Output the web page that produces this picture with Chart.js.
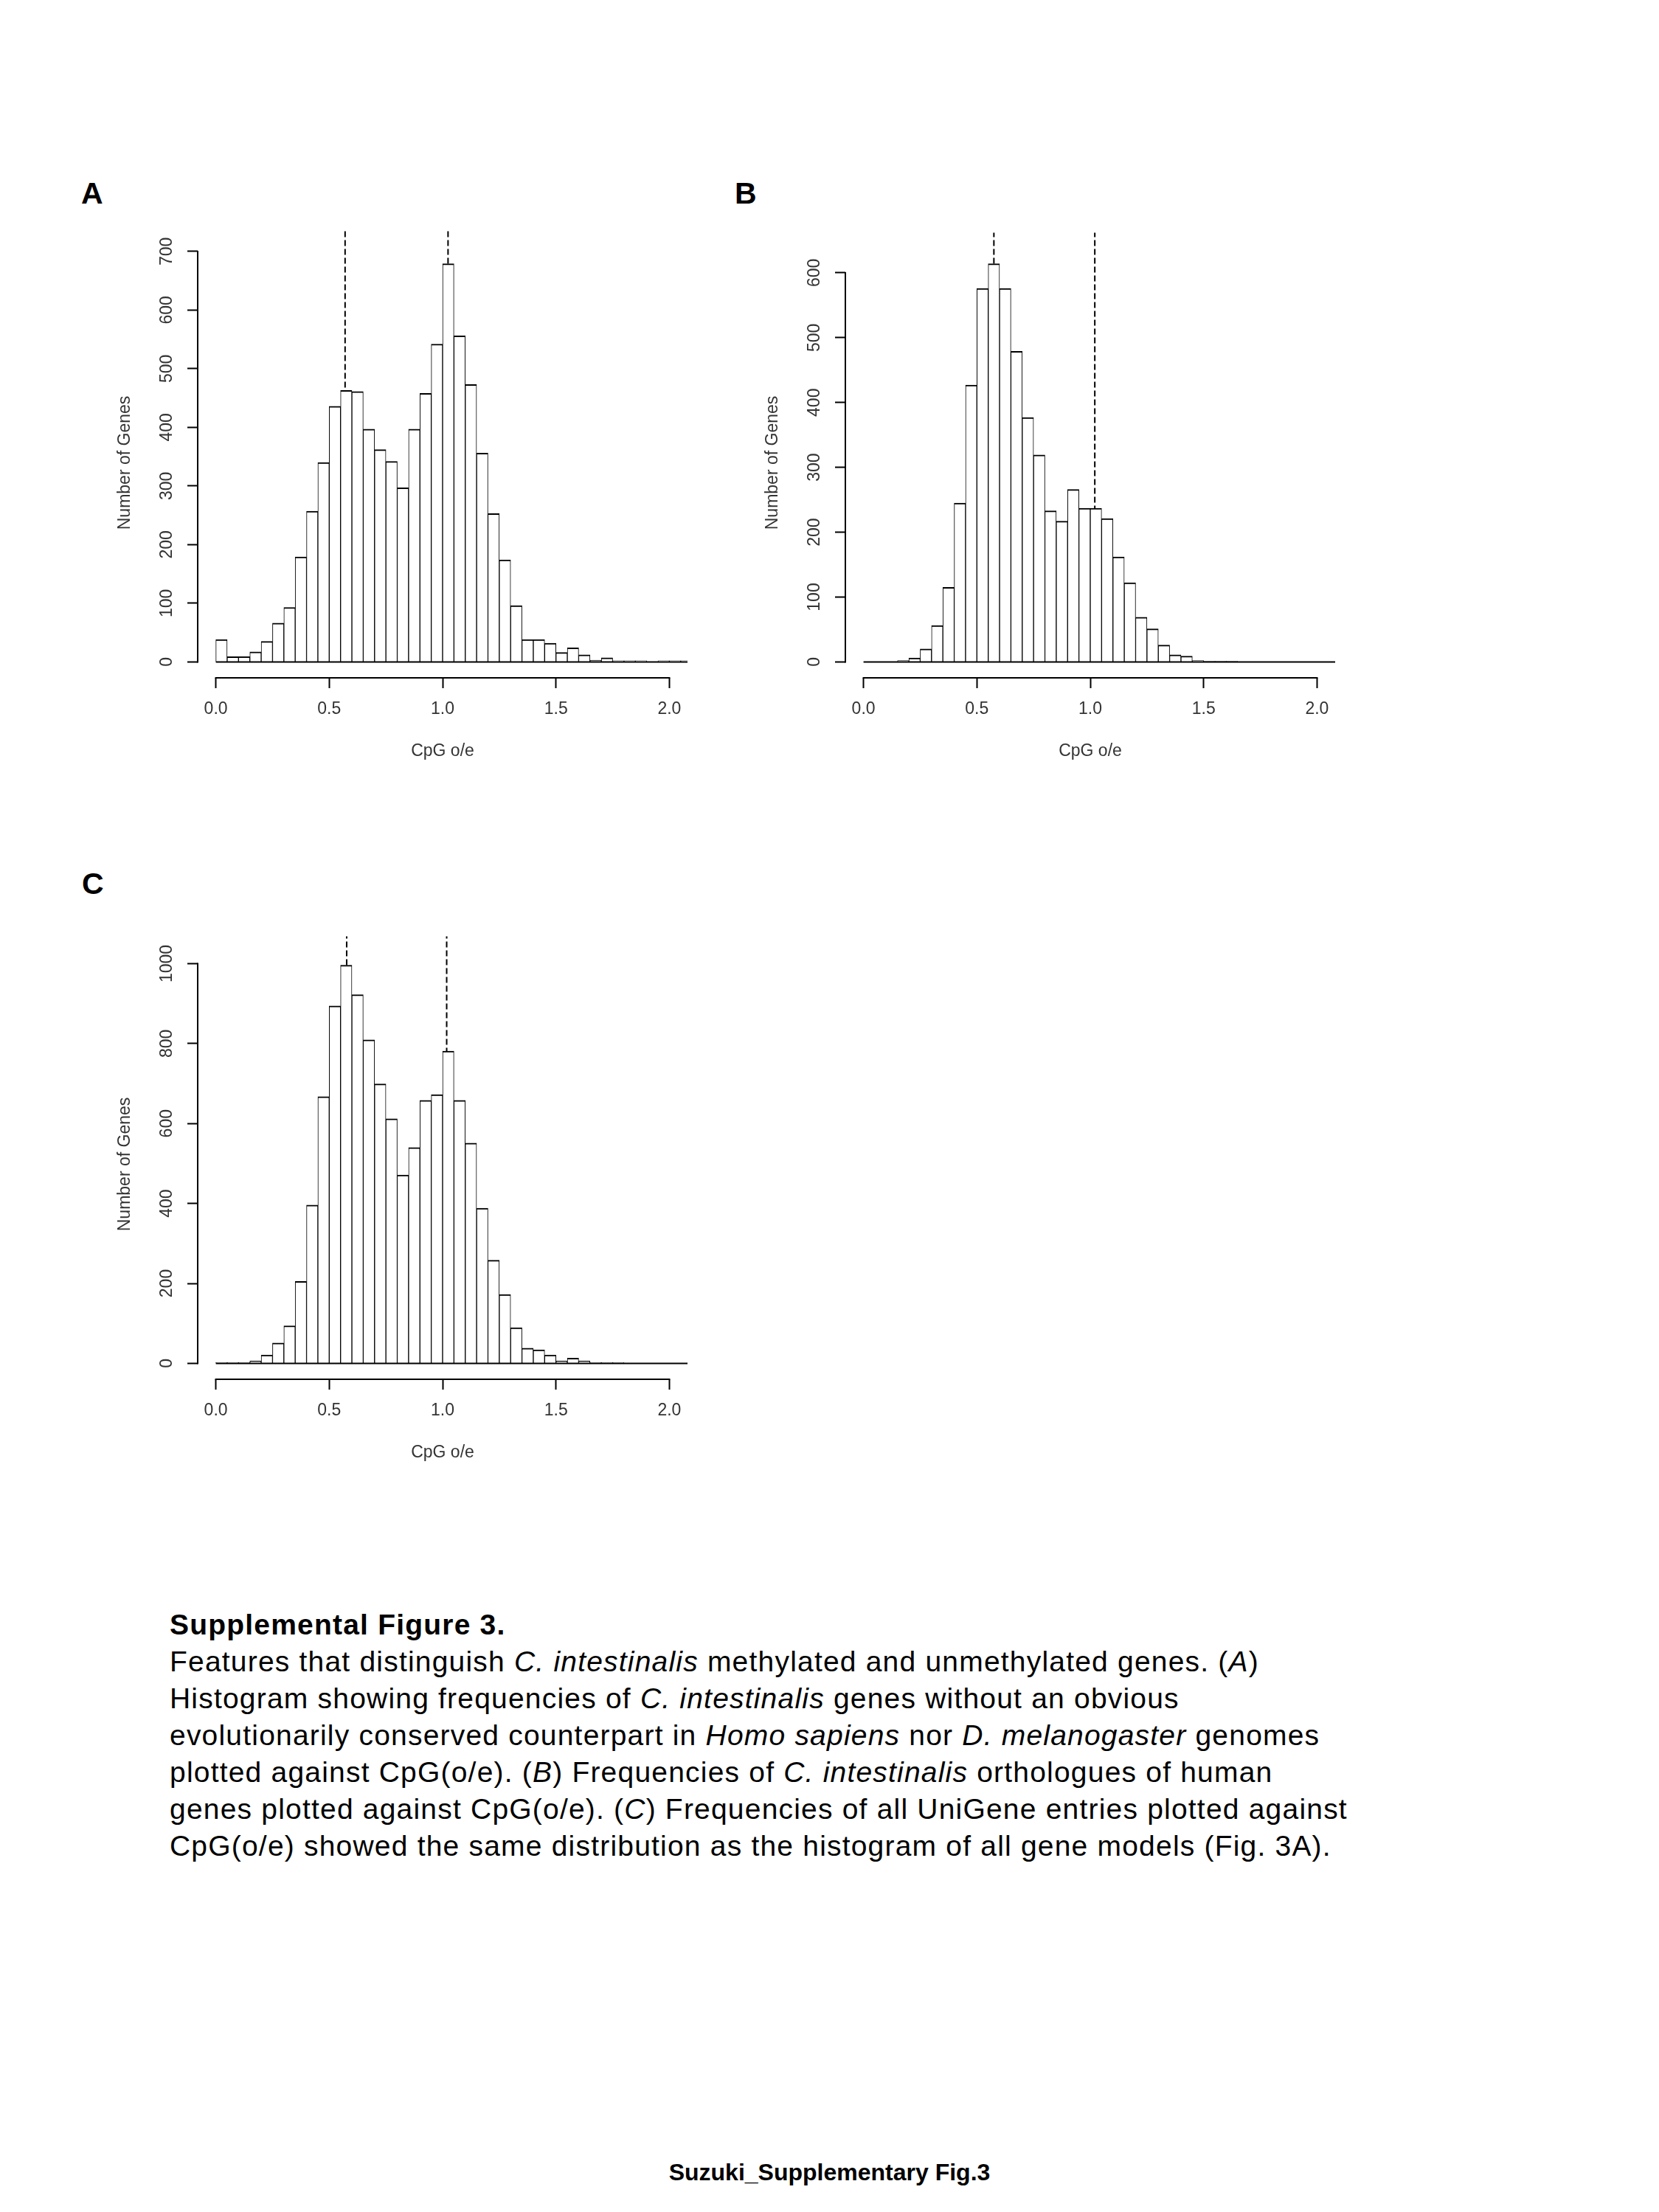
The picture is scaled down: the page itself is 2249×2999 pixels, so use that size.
<!DOCTYPE html>
<html>
<head>
<meta charset="utf-8">
<script src="https://cdn.jsdelivr.net/npm/chart.js@4.4.1/dist/chart.umd.min.js"></script>
<style>
  html, body { margin: 0; padding: 0; background: #fff; }
  body { width: 2249px; height: 2999px; position: relative; overflow: hidden;
         font-family: "Liberation Sans", Arial, Helvetica, sans-serif; color: #000; }
  canvas { position: absolute; }
  .tag { position: absolute; font-weight: bold; font-size: 41px; line-height: 41px; }
  #caption { position: absolute; left: 230px; top: 2178px; font-size: 39px; line-height: 50px;
             letter-spacing: 1.2px; white-space: nowrap; }
  #footer { position: absolute; left: 0; width: 2249px; top: 2929px; text-align: center;
            font-weight: bold; font-size: 32px; line-height: 32px; }
</style>
</head>
<body>
<div class="tag" style="left:110px; top:242px">A</div>
<div class="tag" style="left:996px; top:242px">B</div>
<div class="tag" style="left:111px; top:1178px">C</div>

<canvas id="histA" width="784" height="753" style="left:148px; top:296px"></canvas>
<canvas id="histB" width="784" height="753" style="left:1026px; top:296px"></canvas>
<canvas id="histC" width="784" height="753" style="left:148px; top:1247px"></canvas>

<div id="caption"><b>Supplemental Figure 3.</b><br>
Features that distinguish <i>C. intestinalis</i> methylated and unmethylated genes. (<i>A</i>)<br>
Histogram showing frequencies of <i>C. intestinalis</i> genes without an obvious<br>
evolutionarily conserved counterpart in <i>Homo sapiens</i> nor <i>D. melanogaster</i> genomes<br>
plotted against CpG(o/e). (<i>B</i>) Frequencies of <i>C. intestinalis</i> orthologues of human<br>
genes plotted against CpG(o/e). (<i>C</i>) Frequencies of all UniGene entries plotted against<br>
CpG(o/e) showed the same distribution as the histogram of all gene models (Fig. 3A).</div>

<div id="footer">Suzuki_Supplementary Fig.3</div>

<script>
// histogram bins (CpG o/e), shared by all three panels
const binEdges = [0.00, 0.05, 0.10, 0.15, 0.20, 0.25, 0.30, 0.35, 0.40, 0.45,
                  0.50, 0.55, 0.60, 0.65, 0.70, 0.75, 0.80, 0.85, 0.90, 0.95,
                  1.00, 1.05, 1.10, 1.15, 1.20, 1.25, 1.30, 1.35, 1.40, 1.45,
                  1.50, 1.55, 1.60, 1.65, 1.70, 1.75, 1.80, 1.85, 1.90, 1.95,
                  2.00, 2.05, 2.10];

// gene counts per bin
const countsA = [38, 9, 9, 17, 35, 66, 93, 179, 257, 340,
                 436, 463, 461, 397, 362, 342, 297, 397, 458, 542,
                 679, 556, 473, 356, 253, 174, 96, 38, 38, 32,
                 16, 24, 12, 3, 7, 2, 2, 2, 0, 2,
                 2, 2];
const countsB = [0, 0, 0, 2, 6, 20, 56, 115, 245, 427,
                 576, 614, 576, 479, 377, 319, 233, 217, 266, 237,
                 237, 221, 162, 122, 69, 51, 26, 11, 9, 2,
                 1, 1, 1, 0, 0, 0, 0, 0, 0, 0,
                 0, 0];
const countsC = [2, 2, 2, 6, 21, 51, 94, 205, 396, 667,
                 894, 996, 922, 809, 699, 612, 471, 540, 658, 672,
                 781, 658, 551, 388, 258, 172, 89, 38, 34, 21,
                 6, 13, 6, 2, 2, 2, 0, 0, 0, 0,
                 0, 0];

// dashed reference lines (CpG o/e) and how high they reach (counts)
const peaksA = [0.57, 1.024];
const peaksB = [0.575, 1.02];
const peaksC = [0.577, 1.018];
const peakTops = [737, 662, 1068];

const yTicksStep = [100, 100, 200];

const FONT = '"Liberation Sans", Arial, Helvetica, sans-serif';
const TXT = '#333';

// R style axes: lines only span first..last tick, plus the y = 0 line under empty bins
const rAxes = {
  id: 'rAxes',
  afterDatasetsDraw(chart) {
    const {ctx, chartArea: a, scales: {x, y}} = chart;
    ctx.save();
    ctx.beginPath();
    ctx.rect(a.left, a.top, a.width, a.height);
    ctx.clip();
    ctx.strokeStyle = '#000';
    ctx.lineWidth = 2;
    ctx.beginPath();
    ctx.moveTo(x.getPixelForValue(binEdges[0]), y.getPixelForValue(0));
    ctx.lineTo(x.getPixelForValue(binEdges[binEdges.length - 1]), y.getPixelForValue(0));
    ctx.stroke();
    ctx.restore();
  },
  afterDraw(chart) {
    const {ctx, chartArea: a, scales: {x, y}} = chart;
    const xt = x.ticks, yt = y.ticks;
    ctx.save();
    ctx.strokeStyle = '#000';
    ctx.lineWidth = 2;
    ctx.lineCap = 'square';
    ctx.beginPath();
    ctx.moveTo(x.getPixelForValue(xt[0].value), a.bottom);
    ctx.lineTo(x.getPixelForValue(xt[xt.length - 1].value), a.bottom);
    ctx.moveTo(a.left, y.getPixelForValue(yt[0].value));
    ctx.lineTo(a.left, y.getPixelForValue(yt[yt.length - 1].value));
    ctx.stroke();
    ctx.restore();
  }
};

function makeHist(id, counts, peaks, peakTop, yStep, yTickPad) {
  const top = Math.max(...counts);
  const bars = counts.map((c, i) => ({x: (binEdges[i] + binEdges[i + 1]) / 2, y: c}));
  const lines = peaks.map(p => ({
    type: 'line',
    data: [{x: p, y: 0}, {x: p, y: peakTop}],
    borderColor: '#000',
    borderWidth: 2,
    borderDash: [8, 4],
    pointRadius: 0,
    clip: false,
    order: 1
  }));

  new Chart(document.getElementById(id), {
    type: 'bar',
    data: {
      datasets: [{
        data: bars,
        backgroundColor: '#fff',
        borderColor: '#000',
        borderWidth: {top: 2, left: 1, right: 1, bottom: 0},
        barPercentage: 1,
        categoryPercentage: 1,
        clip: 0,
        order: 0
      }, ...lines]
    },
    options: {
      responsive: false,
      animation: false,
      events: [],
      layout: {padding: {top: 40}},
      plugins: {legend: {display: false}, tooltip: {enabled: false}},
      scales: {
        x: {
          type: 'linear',
          min: -0.08,
          max: 2.08,
          offset: false,
          border: {display: false},
          grid: {offset: false, drawOnChartArea: false, tickLength: 14, tickWidth: 2, tickColor: '#000'},
          ticks: {
            stepSize: 0.5,
            includeBounds: false,
            autoSkip: false,
            maxRotation: 0,
            padding: 15,
            color: TXT,
            font: {family: FONT, size: 23},
            callback: v => v.toFixed(1)
          },
          title: {display: true, text: 'CpG o/e', color: TXT, font: {family: FONT, size: 23},
                  padding: {top: 0, bottom: 17}},
          afterFit: s => { s.height = 130; s.paddingLeft = 0; s.paddingRight = 0; }
        },
        y: {
          type: 'linear',
          min: -0.04 * top,
          max: 1.04 * top,
          border: {display: false},
          grid: {drawOnChartArea: false, tickLength: 14, tickWidth: 2, tickColor: '#000'},
          ticks: {
            stepSize: yStep,
            includeBounds: false,
            autoSkip: false,
            minRotation: 90,
            maxRotation: 90,
            crossAlign: 'center',
            padding: yTickPad,
            color: TXT,
            font: {family: FONT, size: 23},
            callback: v => String(v)
          },
          title: {display: true, text: 'Number of Genes', color: TXT, font: {family: FONT, size: 23},
                  padding: {top: 8, bottom: 0}},
          afterFit: s => { s.width = 120; s.paddingTop = 0; s.paddingBottom = 0; }
        }
      }
    },
    plugins: [rAxes]
  });
}

makeHist('histA', countsA, peaksA, peakTops[0], yTicksStep[0], 8);
makeHist('histB', countsB, peaksB, peakTops[1], yTicksStep[1], 8);
makeHist('histC', countsC, peaksC, peakTops[2], yTicksStep[2], 2);
</script>
</body>
</html>
